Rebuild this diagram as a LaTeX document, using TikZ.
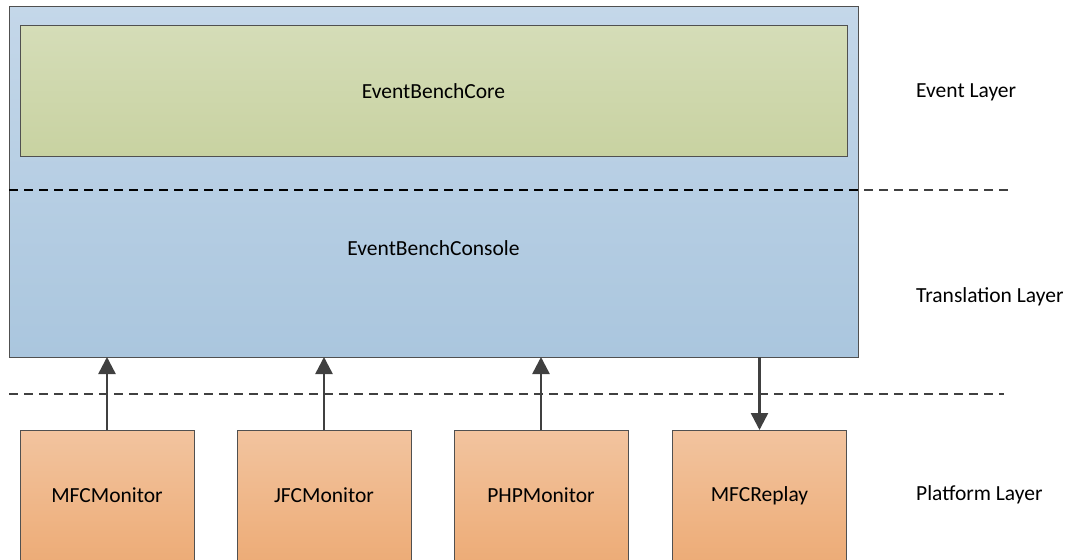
\documentclass[tikz,border=0pt]{standalone}
\usepackage{fontspec}
\setmainfont{Carlito}
\usetikzlibrary{arrows.meta}
\definecolor{edgegray}{HTML}{505050}
\definecolor{linegray}{HTML}{404040}
\definecolor{blueTop}{HTML}{C4D7E9}
\definecolor{blueBot}{HTML}{AAC6DE}
\definecolor{greenTop}{HTML}{D5DDB8}
\definecolor{greenBot}{HTML}{C8D2A1}
\definecolor{orTop}{HTML}{F2C49F}
\definecolor{orBot}{HTML}{EDAC77}
\tikzset{
  box/.style={draw=edgegray, line width=1pt, inner sep=0pt, outer sep=0pt, font=\fontsize{21.5}{25}\selectfont, text=black},
  bluebox/.style={box, top color=blueTop, bottom color=blueBot},
  greenbox/.style={box, top color=greenTop, bottom color=greenBot},
  platbox/.style={box, top color=orTop, bottom color=orBot, minimum width=174pt, minimum height=131pt},
  layerlabel/.style={anchor=west, inner sep=0pt, font=\fontsize{21.5}{25}\selectfont},
  boxtext/.style={inner sep=0pt, font=\fontsize{21.5}{25}\selectfont},
  sep/.style={line width=2pt, dash pattern=on 9pt off 6pt},
  conn/.style={line width=2.5pt, draw=linegray, -{Triangle[width=17pt,length=17pt]}}
}
\begin{document}
\begin{tikzpicture}[x=1pt,y=-1pt]
\useasboundingbox (0,0) rectangle (1072,560);
\clip (0,0) rectangle (1072,560);
% translation layer box
\node[bluebox, minimum width=849pt, minimum height=351pt] (console) at (433.5,181.5) {};
\node[boxtext] (consoletext) at (433.5,248) {EventBenchConsole};
% core
\node[greenbox, minimum width=827pt, minimum height=131pt] (core) at (433.5,91) {EventBenchCore};
% separators
\draw[sep, draw=linegray] (9,190) -- (1011,190);
\draw[sep, draw=black] (9,190) -- (858,190);
\draw[sep, draw=linegray] (9,394) -- (1004,394);
% platform boxes
\node[platbox] (mfcm) at (107,495.5) {MFCMonitor};
\node[platbox] (jfcm) at (324,495.5) {JFCMonitor};
\node[platbox] (phpm) at (541,495.5) {PHPMonitor};
\node[platbox] (mfcr) at (759.5,495.5) {MFCReplay};
% connectors
\draw[conn] (mfcm.north) -- (mfcm.north |- console.south);
\draw[conn] (jfcm.north) -- (jfcm.north |- console.south);
\draw[conn] (phpm.north) -- (phpm.north |- console.south);
\draw[conn] (mfcr.north |- console.south) -- (mfcr.north);
% layer labels
\node[layerlabel] (lev) at (916,92) {Event Layer};
\node[layerlabel] (ltr) at (916,297) {Translation Layer};
\node[layerlabel] (lpl) at (916,495) {Platform Layer};
\end{tikzpicture}
\end{document}
